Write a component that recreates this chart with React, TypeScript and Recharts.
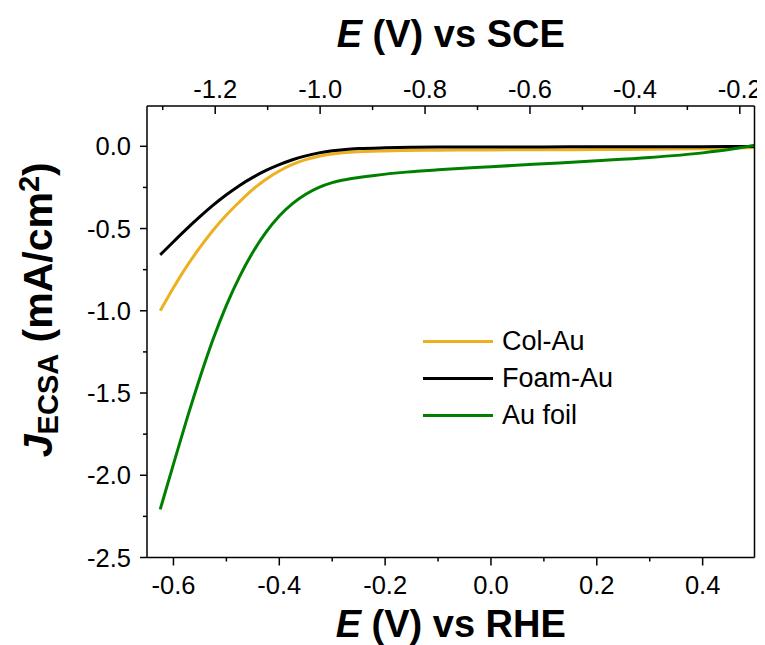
import React from 'react';
import { LineChart, Line, XAxis, YAxis, Legend } from 'recharts';

const FONT = "Arial, 'Liberation Sans', Helvetica, sans-serif";

// E (V) vs RHE and J_ECSA (mA/cm2) for each electrode
const colAuE = [-0.625, -0.6, -0.575, -0.55, -0.525, -0.5, -0.475, -0.45, -0.425, -0.4, -0.375, -0.35, -0.325, -0.3, -0.275, -0.25, -0.2, -0.1, 0.0, 0.1, 0.2, 0.3, 0.4, 0.498];
const colAuJ = [-1.0, -0.86, -0.73, -0.615, -0.51, -0.418, -0.337, -0.262, -0.2, -0.15, -0.11, -0.081, -0.061, -0.047, -0.038, -0.033, -0.028, -0.024, -0.022, -0.021, -0.02, -0.018, -0.015, -0.008];

const foamAuE = [-0.625, -0.6, -0.575, -0.55, -0.525, -0.5, -0.475, -0.45, -0.425, -0.4, -0.375, -0.35, -0.325, -0.3, -0.275, -0.25, -0.2, -0.15, -0.1, 0.0, 0.1, 0.2, 0.3, 0.4, 0.498];
const foamAuJ = [-0.66, -0.58, -0.502, -0.428, -0.358, -0.295, -0.238, -0.189, -0.147, -0.112, -0.082, -0.058, -0.04, -0.027, -0.019, -0.014, -0.009, -0.006, -0.005, -0.004, -0.004, -0.003, -0.003, -0.002, -0.001];

const auFoilE = [-0.625, -0.6, -0.575, -0.55, -0.525, -0.5, -0.475, -0.45, -0.425, -0.4, -0.375, -0.35, -0.325, -0.3, -0.275, -0.25, -0.22, -0.16, -0.1, 0.0, 0.1, 0.2, 0.3, 0.4, 0.45, 0.498];
const auFoilJ = [-2.207, -1.932, -1.662, -1.407, -1.172, -0.967, -0.792, -0.644, -0.522, -0.424, -0.349, -0.292, -0.25, -0.221, -0.203, -0.19, -0.177, -0.157, -0.143, -0.124, -0.106, -0.088, -0.068, -0.04, -0.02, 0.006];

const seriesNames = ['Col-Au', 'Foam-Au', 'Au foil'];
const seriesColors = ['#EDB120', '#000000', '#008000'];

// RHE -> SCE conversion offset (E_SCE = E_RHE - offset)
const rheToSceOffset = 0.68;

const rheTicks = [-0.6, -0.5, -0.4, -0.3, -0.2, -0.1, 0.0, 0.1, 0.2, 0.3, 0.4];
const rheMajor = [-0.6, -0.4, -0.2, 0.0, 0.2, 0.4];
const sceTicks = [-1.3, -1.2, -1.1, -1.0, -0.9, -0.8, -0.7, -0.6, -0.5, -0.4, -0.3, -0.2];
const sceMajor = [-1.2, -1.0, -0.8, -0.6, -0.4, -0.2];
const jTicks = [-2.5, -2.25, -2.0, -1.75, -1.5, -1.25, -1.0, -0.75, -0.5, -0.25, 0.0];
const jMajor = [-2.5, -2.0, -1.5, -1.0, -0.5, 0.0];

const rheDomain = [-0.65, 0.498];
const sceDomain = [-1.33, -0.172];
const jDomain = [-2.5, 0.245];

const toPoints = (xs: number[], ys: number[]) => xs.map((x, i) => ({ x, y: ys[i] }));
const seriesData = [toPoints(colAuE, colAuJ), toPoints(foamAuE, foamAuJ), toPoints(auFoilE, auFoilJ)];
const sceData = toPoints(foamAuE.map((e) => e - rheToSceOffset), foamAuJ);

const isIn = (arr: number[], v: number) => arr.some((m) => Math.abs(m - v) < 1e-6);
const fmt = (v: number) => (Math.abs(v) < 1e-9 ? '0.0' : v.toFixed(1));

const TICK_FS = 25.5;
const TITLE_FS = 38;

const BottomTick = (p: any) => {
  const { x, y, payload } = p;
  const major = isIn(rheMajor, payload.value);
  return (
    <g>
      <line x1={x} x2={x} y1={y} y2={y + (major ? 8 : 4)} stroke="#000" strokeWidth={1.5} />
      {major && (
        <text x={x} y={y + 36} textAnchor="middle" fontFamily={FONT} fontSize={TICK_FS} fill="#000">
          {fmt(payload.value)}
        </text>
      )}
    </g>
  );
};

const TopTick = (p: any) => {
  const { x, y, payload } = p;
  const major = isIn(sceMajor, payload.value);
  return (
    <g>
      <line x1={x} x2={x} y1={y} y2={y + (major ? 8 : 4)} stroke="#000" strokeWidth={1.5} />
      {major && (
        <text x={x} y={y - 8.5} textAnchor="middle" fontFamily={FONT} fontSize={TICK_FS} fill="#000">
          {fmt(payload.value)}
        </text>
      )}
    </g>
  );
};

const LeftTick = (p: any) => {
  const { x, y, payload } = p;
  const major = isIn(jMajor, payload.value);
  return (
    <g>
      <line x1={x} x2={x - (major ? 7 : 4)} y1={y} y2={y} stroke="#000" strokeWidth={1.5} />
      {major && (
        <text x={x - 16} y={y + 9.2} textAnchor="end" fontFamily={FONT} fontSize={TICK_FS} fill="#000">
          {fmt(payload.value)}
        </text>
      )}
    </g>
  );
};

const BottomTitle = (p: any) => {
  const vb = p.viewBox || {};
  const cx = vb.x + vb.width / 2;
  const by = vb.y + 79.5;
  return (
    <text x={cx} y={by} textAnchor="middle" fontFamily={FONT} fontSize={TITLE_FS} fontWeight="bold" fill="#000">
      <tspan fontStyle="italic">E</tspan>
      <tspan> (V) vs RHE</tspan>
    </text>
  );
};

const TopTitle = (p: any) => {
  const vb = p.viewBox || {};
  const cx = vb.x + vb.width / 2;
  const by = vb.y + vb.height - 59;
  return (
    <text x={cx} y={by} textAnchor="middle" fontFamily={FONT} fontSize={TITLE_FS} fontWeight="bold" fill="#000">
      <tspan fontStyle="italic">E</tspan>
      <tspan> (V) vs SCE</tspan>
    </text>
  );
};

const LeftTitle = (p: any) => {
  const vb = p.viewBox || {};
  const cx = vb.x + vb.width - 95;
  const cy = vb.y + vb.height / 2 - 22;
  return (
    <text
      x={cx}
      y={cy}
      transform={`rotate(-90, ${cx}, ${cy})`}
      textAnchor="middle"
      fontFamily={FONT}
      fontSize={41}
      fontWeight="bold"
      fill="#000"
    >
      <tspan fontStyle="italic">J</tspan>
      <tspan fontSize={29} dy={6}>ECSA</tspan>
      <tspan dy={-6}> (mA/cm</tspan>
      <tspan fontSize={29} dy={-13}>2</tspan>
      <tspan dy={13}>)</tspan>
    </text>
  );
};

const LegendBox = () => (
  <div style={{ fontFamily: FONT }}>
    {seriesNames.map((n, i) => (
      <div key={n} style={{ display: 'flex', alignItems: 'center', height: 37.3 }}>
        <div style={{ width: 70, height: 3, background: seriesColors[i], marginRight: 9 }} />
        <span style={{ fontSize: 27, lineHeight: '37px', color: '#000' }}>{n}</span>
      </div>
    ))}
  </div>
);

export default function App() {
  return (
    <div style={{ width: 757, height: 637, overflow: 'hidden' }}>
      <LineChart
        width={780}
        height={637}
        margin={{ top: 58, right: 32.5, bottom: 47.5, left: 59 }}
      >
        <XAxis
          xAxisId="rhe"
          type="number"
          dataKey="x"
          orientation="bottom"
          domain={rheDomain}
          allowDataOverflow
          ticks={rheTicks}
          interval={0}
          height={40}
          tickSize={0}
          tickMargin={0}
          tickLine={false}
          axisLine={{ stroke: '#000', strokeWidth: 1.5 }}
          tick={(p: any) => <BottomTick {...p} />}
          label={{ content: (p: any) => <BottomTitle {...p} /> }}
        />
        <XAxis
          xAxisId="sce"
          type="number"
          dataKey="x"
          orientation="top"
          domain={sceDomain}
          allowDataOverflow
          ticks={sceTicks}
          interval={0}
          height={40}
          tickSize={0}
          tickMargin={0}
          tickLine={false}
          axisLine={{ stroke: '#000', strokeWidth: 1.5 }}
          tick={(p: any) => <TopTick {...p} />}
          label={{ content: (p: any) => <TopTitle {...p} /> }}
        />
        <YAxis
          yAxisId="j"
          type="number"
          orientation="left"
          domain={jDomain}
          allowDataOverflow
          ticks={jTicks}
          interval={0}
          width={80}
          tickSize={0}
          tickMargin={0}
          tickLine={false}
          axisLine={{ stroke: '#000', strokeWidth: 1.5 }}
          tick={(p: any) => <LeftTick {...p} />}
          label={{ content: (p: any) => <LeftTitle {...p} /> }}
        />
        <YAxis
          yAxisId="right"
          type="number"
          orientation="right"
          domain={jDomain}
          allowDataOverflow
          width={1}
          tick={false}
          tickLine={false}
          axisLine={{ stroke: '#000', strokeWidth: 1.5 }}
        />
        {/* transparent series that binds the SCE scale to the same measurement */}
        <Line
          xAxisId="sce"
          yAxisId="right"
          data={sceData}
          dataKey="y"
          name="sce"
          type="monotone"
          stroke="none"
          strokeOpacity={0}
          dot={false}
          activeDot={false}
          legendType="none"
          isAnimationActive={false}
        />
        {seriesData.map((d, i) => (
          <Line
            key={seriesNames[i]}
            xAxisId="rhe"
            yAxisId="j"
            data={d}
            dataKey="y"
            name={seriesNames[i]}
            type="monotone"
            stroke={seriesColors[i]}
            strokeWidth={3}
            dot={false}
            activeDot={false}
            isAnimationActive={false}
          />
        ))}
        <Legend
          layout="vertical"
          align="center"
          verticalAlign="middle"
          wrapperStyle={{ left: 415, top: 314.5, width: 'auto' }}
          content={() => <LegendBox />}
        />
      </LineChart>
    </div>
  );
}
